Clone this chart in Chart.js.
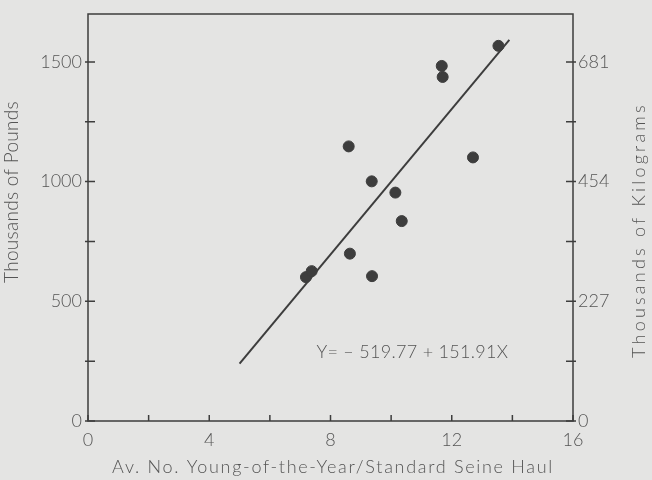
<!DOCTYPE html>
<html>
<head>
<meta charset="utf-8">
<script src="https://cdn.jsdelivr.net/npm/chart.js@4"></script>
<style>
  html, body { margin: 0; padding: 0; background: #e4e4e3; }
  #wrap { width: 652px; height: 480px; }
</style>
</head>
<body>
<div id="wrap"><canvas id="myScatterChart"></canvas></div>
<script>
// catch data (x = young-of-the-year per haul, y = thousands of pounds)
const youngPerHaul = [13.54, 11.67, 11.70, 8.60, 12.70, 9.36, 10.14, 10.35, 8.64, 9.37, 7.19, 7.38];
const thousandLbs = [1567, 1483, 1437, 1147, 1101, 1001, 954, 835, 699, 605, 601, 626];

// regression line end points, Y = -519.77 + 151.91X
const fitX = [5, 13.9];
const fitY = [240, 1592];

const xTickValues = [0, 2, 4, 6, 8, 10, 12, 14, 16];
const xTickLabels = ["0", "", "4", "", "8", "", "12", "", "16"];
const yTickValues = [0, 250, 500, 750, 1000, 1250, 1500];
const lbTickLabels = ["0", "", "500", "", "1000", "", "1500"];
const kgTickLabels = ["0", "", "227", "", "454", "", "681"];

const ink = "#3d3d3d";
const textColor = "#555";
const fam = "Lato, 'DejaVu Sans', sans-serif";
const font = { family: fam, size: 18, weight: "300" };

function drawText(ctx, text, x, y, size, spacing, angle) {
  ctx.save();
  ctx.font = "300 " + size + "px " + fam;
  ctx.letterSpacing = spacing + "px";
  ctx.translate(x, y);
  if (angle) ctx.rotate(angle);
  ctx.fillText(text, 0, 0);
  ctx.restore();
}

const frame = {
  id: "frame",
  afterDraw(chart) {
    const { ctx, chartArea: a, scales } = chart;
    ctx.save();
    ctx.strokeStyle = ink;
    ctx.lineWidth = 1.5;
    ctx.strokeRect(a.left, a.top, a.right - a.left, a.bottom - a.top);
    ctx.beginPath();
    scales.x.ticks.forEach((t) => {
      const px = scales.x.getPixelForValue(t.value);
      ctx.moveTo(px, a.bottom);
      ctx.lineTo(px, a.bottom - 6);
    });
    scales.y.ticks.forEach((t) => {
      const py = scales.y.getPixelForValue(t.value);
      ctx.moveTo(a.left - 3, py);
      ctx.lineTo(a.left + 7, py);
    });
    scales.y2.ticks.forEach((t) => {
      const py = scales.y2.getPixelForValue(t.value);
      ctx.moveTo(a.right + 3, py);
      ctx.lineTo(a.right - 7, py);
    });
    ctx.stroke();

    // titles and equation
    ctx.fillStyle = textColor;
    ctx.textAlign = "center";
    ctx.textBaseline = "middle";
    drawText(ctx, "Av. No. Young-of-the-Year/Standard Seine Haul", 333, 467, 18, 1.7);
    drawText(ctx, "Y= \u2013 519.77 + 151.91X",
      scales.x.getPixelForValue(10.7), scales.y.getPixelForValue(288), 18, 0.3);
    drawText(ctx, "Thousands of Pounds", 12, 192, 19, 0.3, -Math.PI / 2);
    drawText(ctx, "Thousands of Kilograms", 639, 230, 18, 3.2, -Math.PI / 2);
    ctx.restore();
  },
};

const ctxScatter = document.getElementById("myScatterChart");
const myScatterChart = new Chart(ctxScatter, {
  type: "scatter",
  data: {
    datasets: [
      {
        label: "Catch",
        data: youngPerHaul.map((x, i) => ({ x: x, y: thousandLbs[i] })),
        backgroundColor: ink,
        borderColor: ink,
        pointRadius: 5.5,
      },
      {
        label: "Fit",
        type: "line",
        data: fitX.map((x, i) => ({ x: x, y: fitY[i] })),
        borderColor: ink,
        borderWidth: 2,
        pointRadius: 0,
        fill: false,
      },
    ],
  },
  options: {
    responsive: true,
    maintainAspectRatio: false,
    animation: false,
    layout: { padding: { top: 14 } },
    plugins: { legend: { display: false }, tooltip: { enabled: false } },
    scales: {
      x: {
        type: "linear",
        min: 0,
        max: 16,
        grid: { display: false },
        border: { display: false },
        ticks: {
          color: textColor,
          font: font,
          padding: 0,
          maxRotation: 0,
          autoSkip: false,
          callback: (v, i) => xTickLabels[i],
        },
        afterBuildTicks: (s) => { s.ticks = xTickValues.map((v) => ({ value: v })); },
        afterFit: (s) => { s.height = 59; },
      },
      y: {
        position: "left",
        min: 0,
        max: 1700,
        grid: { display: false },
        border: { display: false },
        ticks: {
          color: textColor,
          font: font,
          padding: -2,
          autoSkip: false,
          callback: (v, i) => lbTickLabels[i],
        },
        afterBuildTicks: (s) => { s.ticks = yTickValues.map((v) => ({ value: v })); },
        afterFit: (s) => { s.width = 88; },
      },
      y2: {
        position: "right",
        min: 0,
        max: 1700,
        grid: { display: false },
        border: { display: false },
        ticks: {
          color: textColor,
          font: font,
          padding: -3,
          autoSkip: false,
          callback: (v, i) => kgTickLabels[i],
        },
        afterBuildTicks: (s) => { s.ticks = yTickValues.map((v) => ({ value: v })); },
        afterFit: (s) => { s.width = 79; },
      },
    },
  },
  plugins: [frame],
});
</script>
</body>
</html>
